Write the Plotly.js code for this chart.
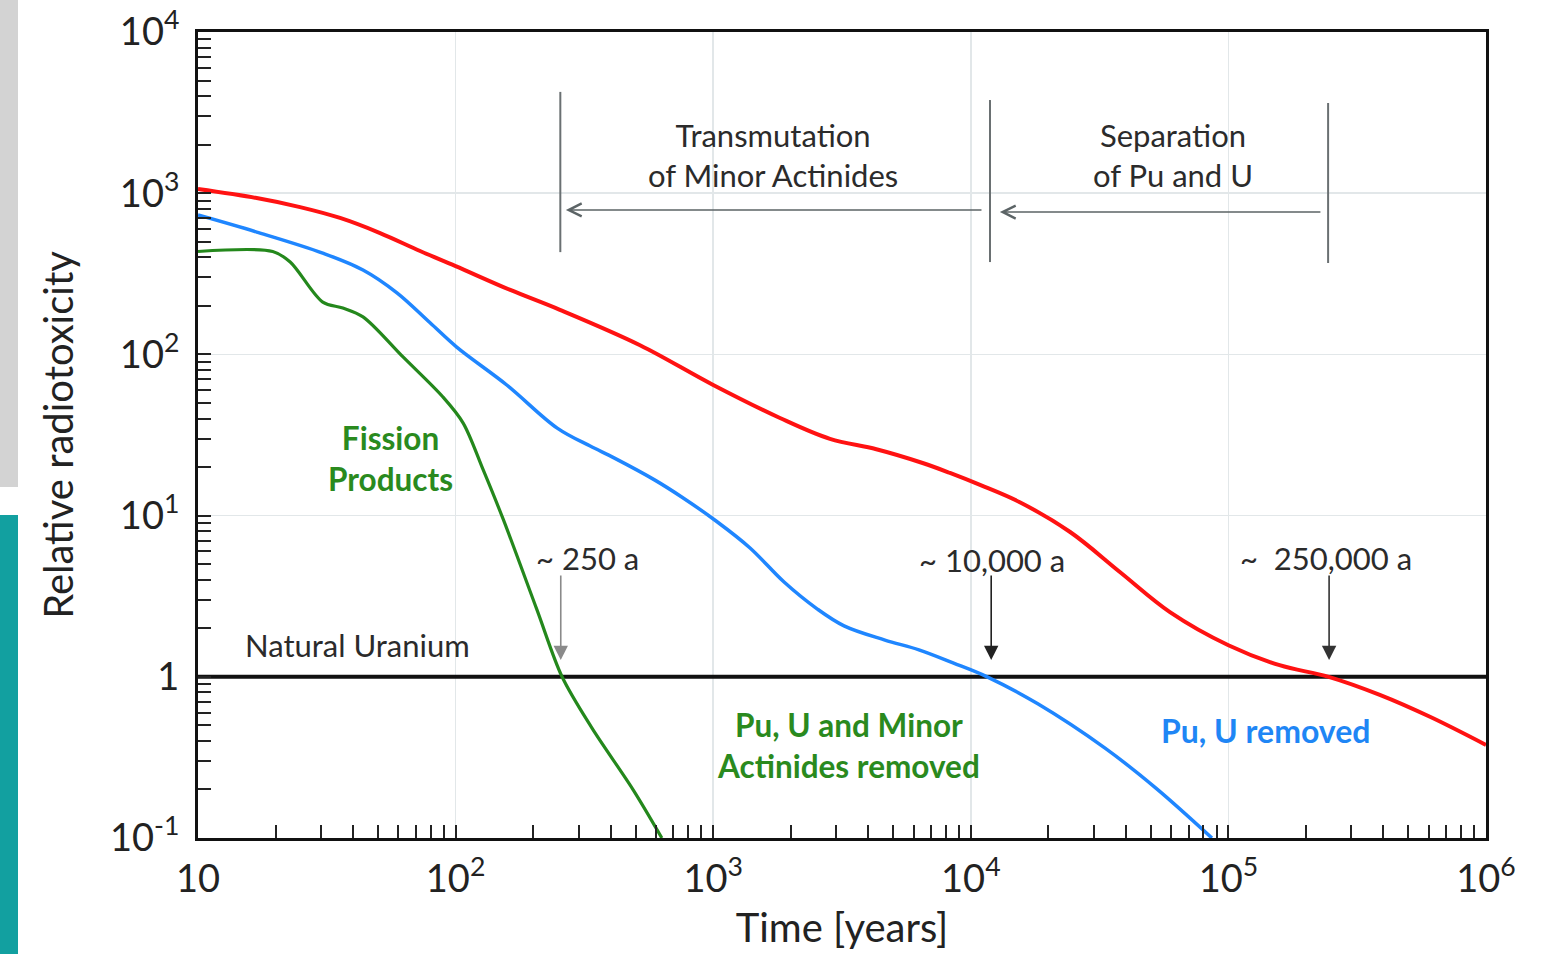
<!DOCTYPE html>
<html>
<head>
<meta charset="utf-8">
<script src="https://cdn.plot.ly/plotly-3.0.1.min.js"></script>
<style>
html,body{margin:0;padding:0;background:#fff;}
#chart{width:1547px;height:954px;}
</style>
</head>
<body>
<div id="chart"></div>
<script>
// ---- Data (time in years, relative radiotoxicity) ----
const redTime  = [10, 16.9, 24.9, 35.6, 50.9, 72.8, 100, 163, 254, 520, 1000, 1816, 2840, 4300, 6500, 8300, 10860, 15500, 24300, 37900, 59300, 100000, 158000, 245000, 387000, 606000, 1000000];
const redTox   = [1062, 933, 820, 702, 566, 438, 353, 251, 189, 114, 64.6, 40.3, 29.9, 25.8, 21.2, 18.4, 15.5, 12.1, 7.91, 4.47, 2.52, 1.57, 1.18, 1.0, 0.773, 0.565, 0.378];

const blueTime = [10, 16.9, 30.5, 43.7, 59.2, 79.6, 101, 158, 248, 333, 412, 594, 757, 1026, 1390, 1884, 2530, 3220, 4640, 6290, 8530, 11570, 18200, 33200, 52300, 86300];
const blueTox  = [732, 574, 425, 334, 241, 157, 111, 64.6, 34.9, 27.0, 22.8, 16.6, 13.0, 9.26, 6.30, 3.87, 2.64, 2.07, 1.69, 1.47, 1.22, 1.0, 0.68, 0.361, 0.204, 0.1];

const greenTime = [10, 19.5, 22.8, 30.5, 36.5, 43.7, 62.5, 89.3, 107, 128, 153, 207, 259, 338, 489, 632];
const greenTox  = [435, 435, 374, 211, 194, 171, 96.4, 54.4, 37.5, 19.2, 9.5, 2.6, 1.0, 0.482, 0.199, 0.1];

const uraniumTime = [10, 1000000];
const uraniumTox  = [1, 1];

const xTickVals = [10, 100, 1000, 10000, 100000, 1000000];
const xTickText = ['10', '10<sup>2</sup>', '10<sup>3</sup>', '10<sup>4</sup>', '10<sup>5</sup>', '10<sup>6</sup>'];
const yTickVals = [0.1, 1, 10, 100, 1000, 10000];
const yTickText = ['10<sup>-1</sup>', '1', '10<sup>1</sup>', '10<sup>2</sup>', '10<sup>3</sup>', '10<sup>4</sup>'];

// Crossing times marked with arrows (years)
const crossTimes = [256, 12000, 246000];
const crossLabels = ['~ 250 a', '~ 10,000 a', '~  250,000 a'];

// Measure bracket positions (years) and heights (relative radiotoxicity)
const bracketTimes = [255, 11870, 243800];
const bracketTop = [4250, 3785, 3627];
const bracketBottom = [431, 374, 369];

// ---- helpers ----
function minorVals(lo, hi) {
  const v = [];
  for (let e = lo; e < hi; e++) for (let d = 2; d <= 9; d++) v.push(d * Math.pow(10, e));
  return v;
}
const L = Math.log10;
const FONT = 'Lato, "Open Sans", "DejaVu Sans", sans-serif';
const TXT = '#2b2b2b';

const traces = [
  {x: uraniumTime, y: uraniumTox, mode: 'lines', line: {color: '#111', width: 4}, name: 'Natural Uranium', hoverinfo: 'skip'},
  {x: redTime, y: redTox, mode: 'lines', line: {color: '#ff1212', width: 4, shape: 'spline', smoothing: 1.0}, name: 'Spent fuel'},
  {x: blueTime, y: blueTox, mode: 'lines', line: {color: '#1f86ff', width: 3.5, shape: 'spline', smoothing: 1.0}, name: 'Pu, U removed'},
  {x: greenTime, y: greenTox, mode: 'lines', line: {color: '#24881c', width: 3.2, shape: 'spline', smoothing: 0.9}, name: 'Pu, U and Minor Actinides removed'}
];

// paper coordinate helpers from pixel positions of the plot frame
const PL = 198, PR = 1486, PT = 32, PB = 838;
const px = p => (p - PL) / (PR - PL);
const py = p => (PB - p) / (PB - PT);

const annotations = [];
function textAnn(text, xp, yp, color, bold, size) {
  annotations.push({
    text: bold ? '<b>' + text + '</b>' : text,
    xref: 'paper', yref: 'paper', x: px(xp), y: py(yp),
    xanchor: 'center', yanchor: 'middle', showarrow: false,
    font: {family: FONT, size: size, color: color}
  });
}
textAnn('Natural Uranium', 357, 645, TXT, false, 31);
textAnn('Fission<br>Products', 390, 458, '#2a8a1e', true, 31.5);
textAnn('Pu, U and Minor<br>Actinides removed', 848, 745, '#2a8a1e', true, 31.5);
textAnn('Pu, U removed', 1265, 730, '#1f86f5', true, 32);
textAnn('Transmutation<br>of Minor Actinides', 773, 155, TXT, false, 31);
textAnn('Separation<br>of Pu and U', 1173, 155, TXT, false, 31);
textAnn(crossLabels[0], 587, 558, TXT, false, 31);
textAnn(crossLabels[1], 992, 560, TXT, false, 31);
textAnn(crossLabels[2], 1326, 558, TXT, false, 31);

// downward arrows to crossing points
const arrowColors = ['#8a8a8a', '#222', '#333'];
crossTimes.forEach((t, i) => {
  annotations.push({
    text: '', x: L(t), y: L(1.27), xref: 'x', yref: 'y',
    showarrow: true, ax: 0, ay: -86, arrowhead: 2, arrowsize: 1.8, arrowwidth: 1.6,
    arrowcolor: arrowColors[i], standoff: 0
  });
});
// horizontal arrows (from right to left)
annotations.push({text: '', xref: 'x', yref: 'y', axref: 'x', ayref: 'y',
  x: L(268), y: L(787), ax: L(11150), ay: L(787),
  showarrow: true, arrowhead: 5, arrowsize: 1.7, arrowwidth: 1.5, arrowcolor: '#5c6466'});
annotations.push({text: '', xref: 'x', yref: 'y', axref: 'x', ayref: 'y',
  x: L(12970), y: L(764), ax: L(230700), ay: L(764),
  showarrow: true, arrowhead: 5, arrowsize: 1.7, arrowwidth: 1.5, arrowcolor: '#5c6466'});

const shapes = [];
bracketTimes.forEach((t, i) => {
  shapes.push({type: 'line', xref: 'x', yref: 'y', x0: t, x1: t, y0: bracketBottom[i], y1: bracketTop[i],
    line: {color: '#6a7072', width: 2}});
});
// decorative page strips at the left edge
shapes.push({type: 'rect', xref: 'paper', yref: 'paper', x0: px(0), x1: px(18), y0: py(487), y1: py(-5),
  fillcolor: '#d3d3d3', line: {width: 0}, layer: 'below'});
shapes.push({type: 'rect', xref: 'paper', yref: 'paper', x0: px(0), x1: px(18), y0: py(960), y1: py(515),
  fillcolor: '#12a0a0', line: {width: 0}, layer: 'below'});

const axisCommon = {
  type: 'log', showline: true, linecolor: '#111', linewidth: 3, mirror: true,
  ticks: 'inside', ticklen: 13, tickwidth: 2, tickcolor: '#222',
  tickmode: 'array', showgrid: true, gridcolor: '#e2e7e9', gridwidth: 1.5,
  zeroline: false, tickfont: {family: FONT, size: 38, color: '#222'}
};

const layout = {
  width: 1547, height: 954,
  margin: {l: PL, r: 1547 - PR, t: PT, b: 954 - PB},
  paper_bgcolor: '#fff', plot_bgcolor: '#fff',
  showlegend: false,
  font: {family: FONT, color: '#222'},
  xaxis: Object.assign({}, axisCommon, {
    range: [1, 6], tickvals: xTickVals, ticktext: xTickText, ticklabelstandoff: 5,
    minor: {tickvals: minorVals(1, 6), ticks: 'inside', ticklen: 13, tickwidth: 2, tickcolor: '#222', showgrid: false},
    title: {text: 'Time [years]', font: {family: FONT, size: 40, color: '#222'}, standoff: 16}
  }),
  yaxis: Object.assign({}, axisCommon, {
    range: [-1, 4], tickvals: yTickVals, ticktext: yTickText, ticklabelstandoff: 8,
    minor: {tickvals: minorVals(-1, 4), ticks: 'inside', ticklen: 13, tickwidth: 2, tickcolor: '#222', showgrid: false},
    title: {text: 'Relative radiotoxicity', font: {family: FONT, size: 40, color: '#222'}, standoff: 24}
  }),
  annotations: annotations,
  shapes: shapes
};

Plotly.newPlot('chart', traces, layout, {displayModeBar: false, staticPlot: true});
</script>
</body>
</html>
